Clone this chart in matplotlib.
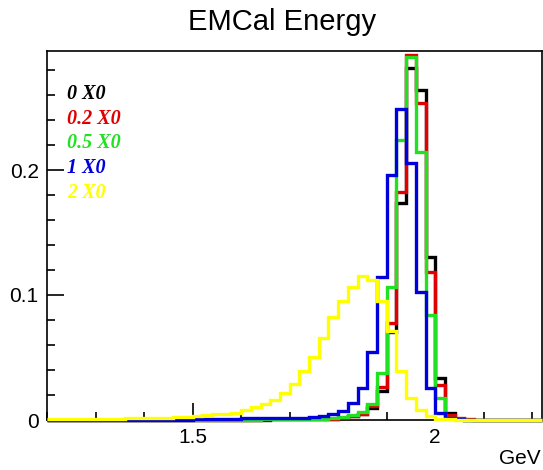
import numpy as np
import matplotlib
matplotlib.use("Agg")
import matplotlib.pyplot as plt
from matplotlib.ticker import MultipleLocator, FixedLocator

# -------------------- DATA --------------------

# 0.02 GeV bins from 1.20 to 2.22 GeV (51 bins)
bin_edges = np.round(np.arange(1.20, 2.2201, 0.02), 2)

labels = ["0 X0", "0.2 X0", "0.5 X0", "1 X0", "2 X0"]
colors = ["#000000", "#e00000", "#22e022", "#0000dd", "#ffff00"]

e_0X0 = [0, 0, 0, 0, 0, 0, 0, 0, 0, 0, 0, 0, 0, 0, 0,
         0.0002, 0.0002, 0.0002, 0.0003, 0.0003, 0.0003, 0.0004, 0.0004, 0.0005, 0.0005,
         0.0006, 0.0006, 0.0007, 0.0008, 0.001, 0.0018, 0.003, 0.0045, 0.0098, 0.0235,
         0.0707, 0.1739, 0.282, 0.264, 0.1307, 0.0333, 0.0053, 0.001, 0, 0,
         0, 0, 0, 0, 0, 0]

e_02X0 = [0, 0, 0, 0, 0, 0.0004, 0, 0, 0, 0, 0, 0, 0, 0, 0,
          0.0002, 0.0002, 0.0002, 0.0003, 0.0003, 0.0004, 0.0004, 0.0005, 0.0005, 0.0006,
          0.0006, 0.0007, 0.0008, 0.0009, 0.0012, 0.002, 0.0032, 0.005, 0.0112, 0.0267,
          0.0773, 0.1827, 0.2917, 0.2533, 0.1187, 0.028, 0.004, 0.002, 0.0005, 0,
          0, 0, 0, 0, 0, 0]

e_05X0 = [0, 0, 0, 0, 0, 0, 0, 0.0003, 0, 0, 0, 0, 0, 0, 0,
          0.0002, 0.0002, 0.0003, 0.0003, 0.0003, 0.0004, 0.0004, 0.0005, 0.0005, 0.0006,
          0.0006, 0.0007, 0.0008, 0.0012, 0.0018, 0.0027, 0.0042, 0.0067, 0.013, 0.038,
          0.1067, 0.224, 0.2907, 0.2147, 0.084, 0.0176, 0.002, 0.0005, 0, 0,
          0, 0, 0, 0, 0, 0]

e_1X0 = [0, 0, 0, 0, 0, 0, 0, 0, 0, 0, 0, 0, 0, 0, 0.0003,
         0.0008, 0.001, 0.001, 0.0012, 0.0012, 0.0013, 0.0014, 0.0015, 0.0016, 0.0018,
         0.0018, 0.002, 0.0025, 0.0032, 0.0047, 0.0072, 0.0136, 0.0253, 0.0547, 0.1147,
         0.196, 0.2488, 0.2053, 0.1027, 0.0256, 0.006, 0.0015, 0.0005, 0, 0,
         0, 0, 0, 0, 0, 0]

e_2X0 = [0.0005, 0.0006, 0.0008, 0.0008, 0.001, 0.001, 0.0012, 0.0012, 0.0014, 0.0015,
         0.0016, 0.0018, 0.002, 0.0022, 0.0027,
         0.0035, 0.004, 0.0045, 0.005, 0.006, 0.008, 0.0105, 0.0128, 0.016, 0.0215,
         0.029, 0.0395, 0.0507, 0.0653, 0.0827, 0.095, 0.1067, 0.1152, 0.112, 0.095,
         0.071, 0.039, 0.0176, 0.008, 0.003, 0.001, 0.0005, 0.0003, 0, 0,
         0, 0, 0, 0, 0, 0]

series = [e_0X0, e_02X0, e_05X0, e_1X0, e_2X0]

x_major = [1.5, 2.0]
x_major_labels = ["1.5", "2"]
y_major = [0.0, 0.1, 0.2]
y_major_labels = ["0", "0.1", "0.2"]

# -------------------- PLOT --------------------

W, H = 543, 470
fig = plt.figure(figsize=(W / 100, H / 100), dpi=100)
ax = fig.add_axes([47 / W, 50 / H, 495 / W, 369 / H])

for vals, col in zip(series, colors):
    ax.stairs(vals, bin_edges, color=col, linewidth=2.4, baseline=None,
              zorder=3, clip_on=False)

ax.set_xlim(1.2, 2.22)
ax.set_ylim(0, 0.2952)

ax.xaxis.set_major_locator(FixedLocator(x_major))
ax.xaxis.set_minor_locator(MultipleLocator(0.1))
ax.set_xticklabels(x_major_labels)
ax.yaxis.set_major_locator(FixedLocator(y_major))
ax.yaxis.set_minor_locator(MultipleLocator(0.02))
ax.set_yticklabels(y_major_labels)

ax.tick_params(which="both", direction="in", top=False, right=False,
               width=1.2, colors="black")
ax.tick_params(which="major", length=12, labelsize=15, pad=6)
ax.tick_params(which="minor", length=6)
for lab in ax.get_xticklabels() + ax.get_yticklabels():
    lab.set_fontfamily("Liberation Sans")
for sp in ax.spines.values():
    sp.set_linewidth(1.2)

# legend-like labels
for i, (lab, col) in enumerate(zip(labels, colors)):
    ax.text(0.04, 0.884 - i * 0.0672, lab, color=col, transform=ax.transAxes,
            fontsize=14.5, fontfamily="Liberation Serif", fontweight="bold",
            fontstyle="italic", va="center", ha="left")

fig.text(282 / W, 1 - 22 / H, "EMCal Energy", ha="center", va="center",
         fontsize=21, fontfamily="Liberation Sans")
fig.text(541 / W, 1 - 458 / H, "GeV", ha="right", va="center",
         fontsize=15, fontfamily="Liberation Sans")

fig.savefig("out.png", dpi=100)
